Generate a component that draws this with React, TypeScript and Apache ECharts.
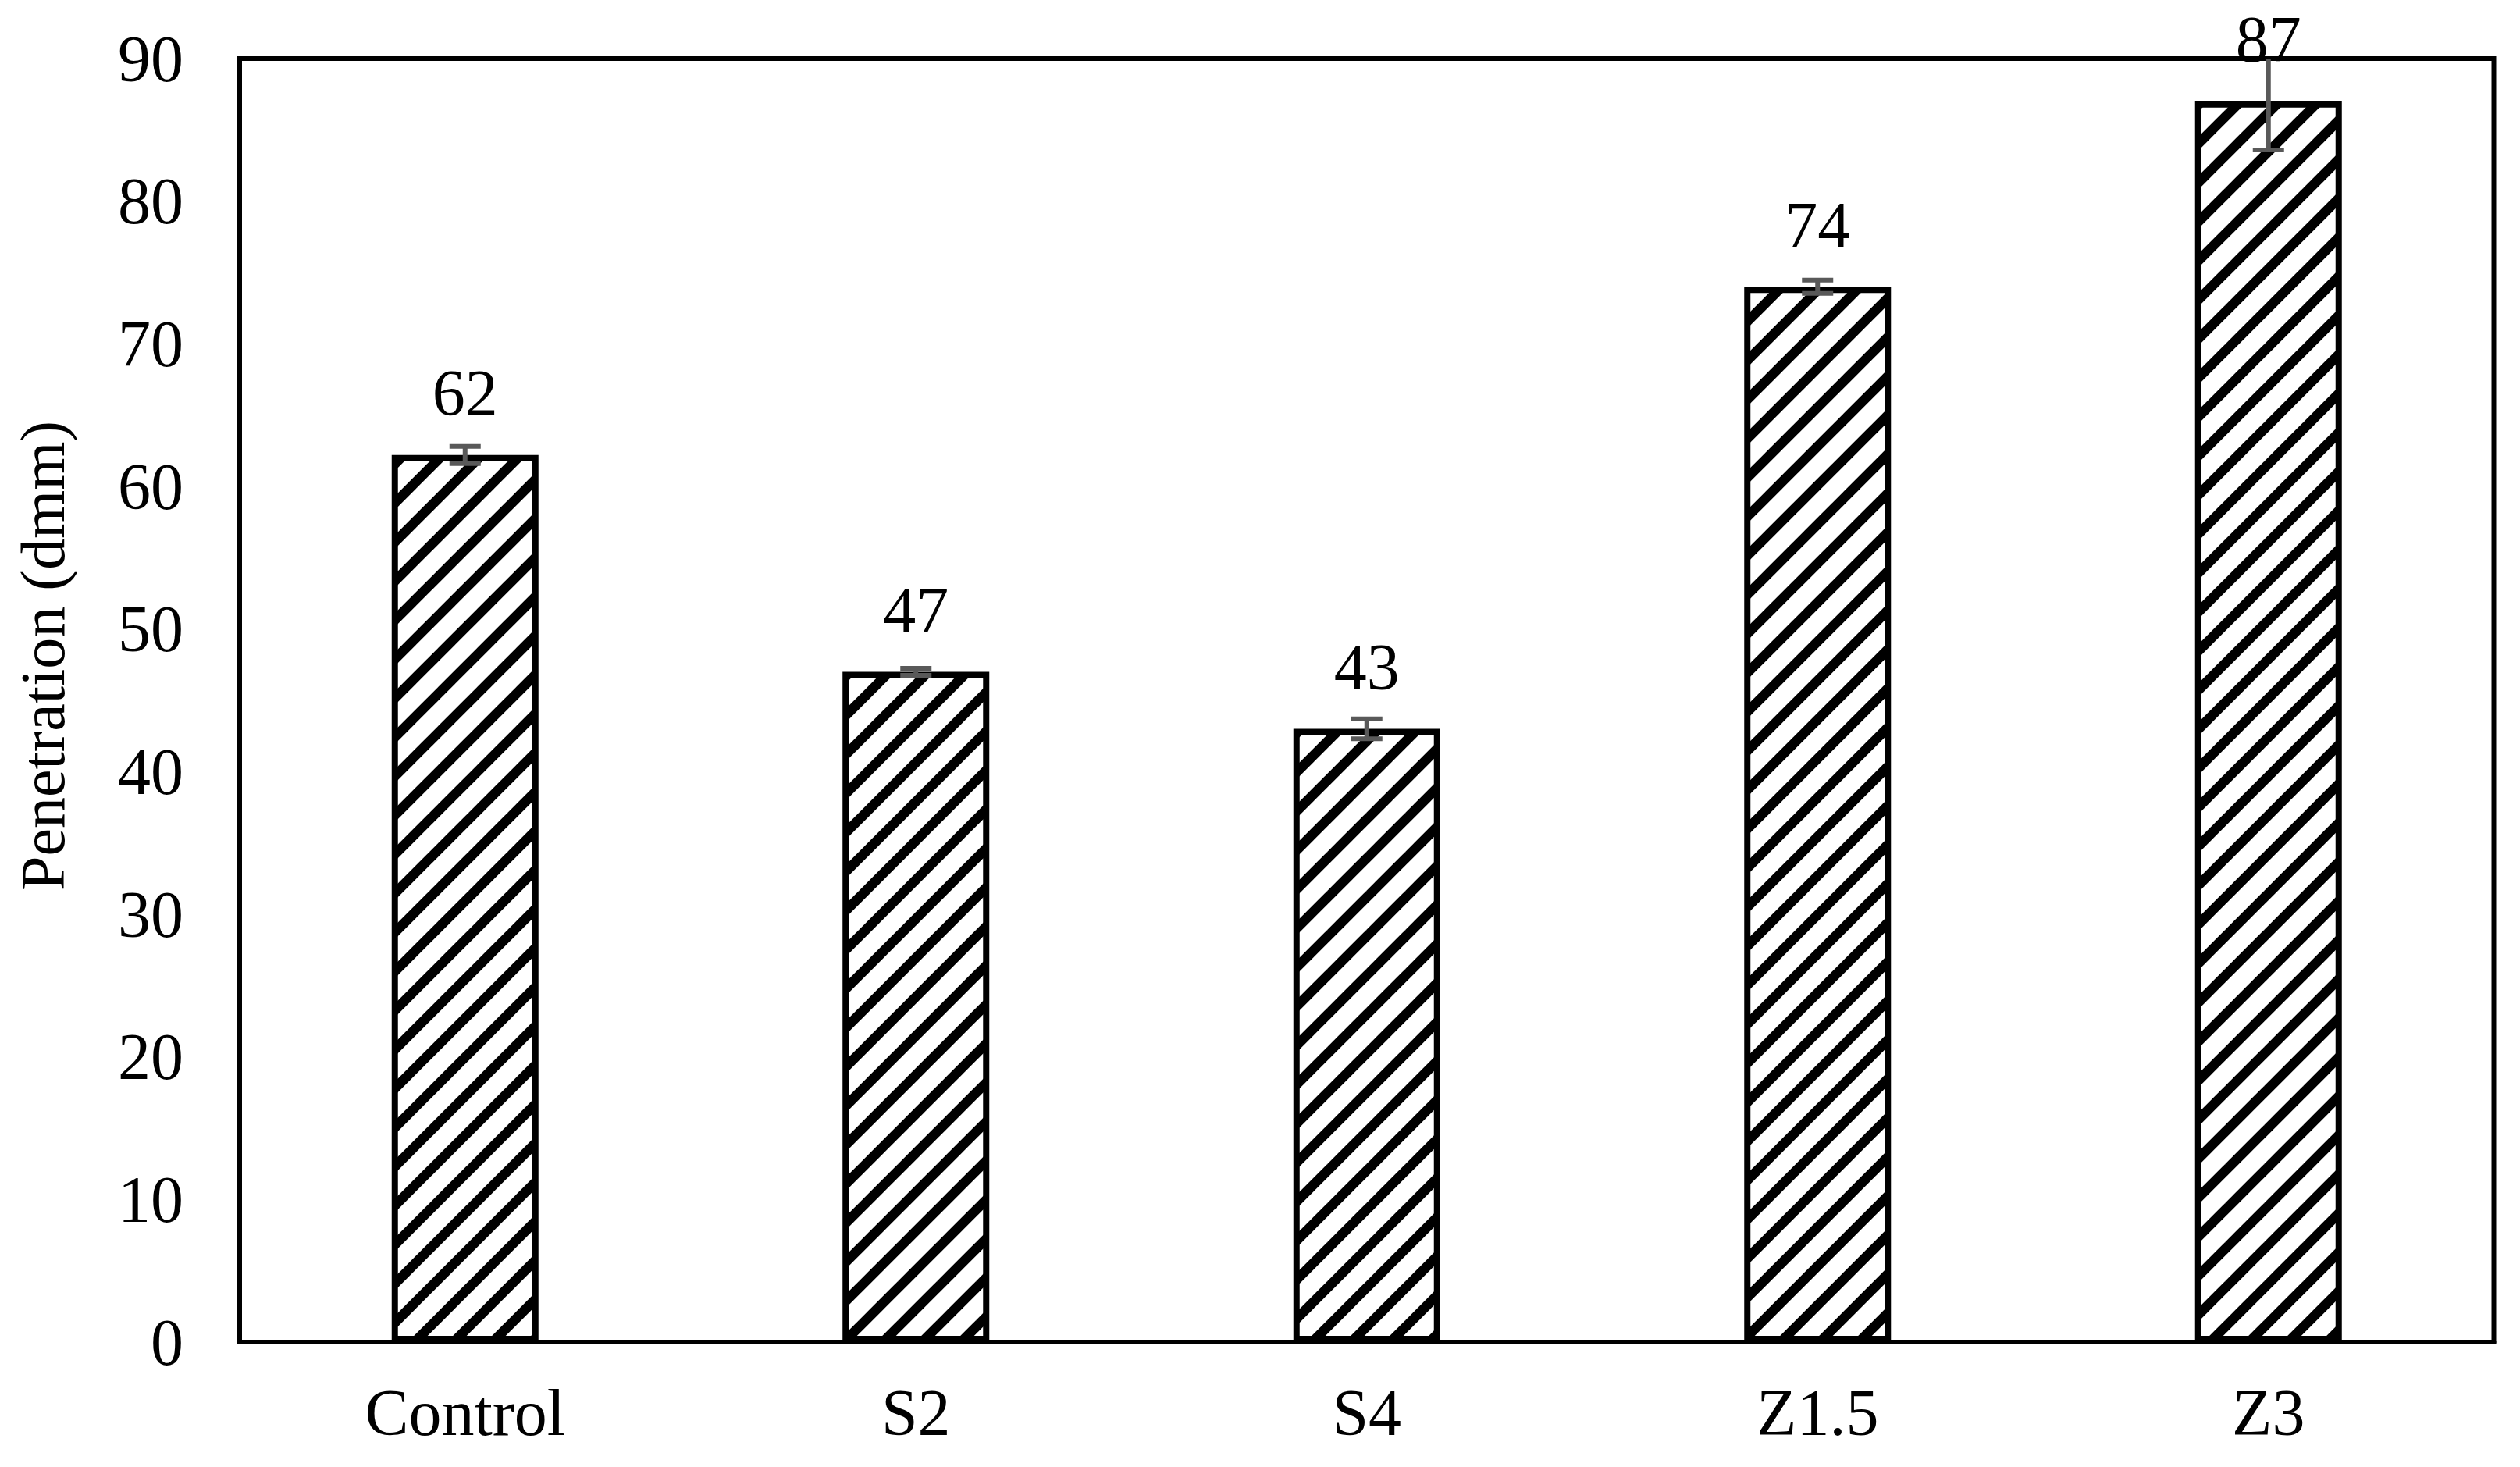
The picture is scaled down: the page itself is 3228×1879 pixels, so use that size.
import React, { useEffect, useRef } from "react";
import * as echarts from "echarts";

const categories = ["Control", "S2", "S4", "Z1.5", "Z3"];
const penetration = [62.2, 47, 43, 74, 87];
const errors = [0.6, 0.25, 0.7, 0.47, 3.4];
const yTicks = { min: 0, max: 90, interval: 10 };
const yTitle = "Penetration (dmm)";

const FONT = "'Liberation Serif', 'Times New Roman', serif";

function makeHatch(): HTMLCanvasElement {
  const size = 50;
  const c = document.createElement("canvas");
  c.width = size;
  c.height = size;
  const ctx = c.getContext("2d")!;
  ctx.fillStyle = "#ffffff";
  ctx.fillRect(0, 0, size, size);
  ctx.strokeStyle = "#000000";
  ctx.lineWidth = 12.5;
  ctx.lineCap = "butt";
  for (const k of [0, size, 2 * size]) {
    ctx.beginPath();
    ctx.moveTo(k + 20, -20);
    ctx.lineTo(-20, k + 20);
    ctx.stroke();
  }
  return c;
}

export default function App() {
  const ref = useRef<HTMLDivElement>(null);
  useEffect(() => {
    document.body.style.margin = "0";
    if (!ref.current) return;
    const chart = echarts.init(ref.current, undefined, { renderer: "svg" });
    const hatch = makeHatch();
    const errData = penetration.map((v, i) => [i, v - errors[i], v + errors[i]]);
    chart.setOption({
      animation: false,
      backgroundColor: "#ffffff",
      grid: {
        left: 307,
        right: 33.5,
        top: 75,
        bottom: 160,
        show: true,
        borderColor: "#000",
        borderWidth: 6,
        backgroundColor: "transparent",
        containLabel: false,
        outerBoundsMode: "none",
      },
      xAxis: {
        type: "category",
        data: categories,
        axisLine: { show: true, lineStyle: { color: "#000", width: 6 } },
        axisTick: { show: false },
        axisLabel: { color: "#000", fontFamily: FONT, fontSize: 84, margin: 48 },
        splitLine: { show: false },
      },
      yAxis: {
        type: "value",
        min: yTicks.min,
        max: yTicks.max,
        interval: yTicks.interval,
        axisLine: { show: true, lineStyle: { color: "#000", width: 6 } },
        axisTick: { show: false },
        axisLabel: { color: "#000", fontFamily: FONT, fontSize: 84, margin: 72 },
        splitLine: { show: false },
      },
      graphic: [
        {
          type: "text",
          x: 55,
          y: 840,
          rotation: Math.PI / 2,
          style: {
            text: yTitle,
            fill: "#000",
            font: `80px ${FONT}`,
            textAlign: "center",
            textVerticalAlign: "middle",
          },
        },
      ],
      series: [
        {
          type: "bar",
          data: penetration,
          barWidth: 188,
          z: 2,
          itemStyle: {
            color: { image: hatch, repeat: "repeat" },
            borderColor: "#000",
            borderWidth: 8,
          },
          label: {
            show: true,
            position: "top",
            distance: 37,
            color: "#000",
            fontFamily: FONT,
            fontSize: 84,
            formatter: (p: any) => String(Math.round(p.value)),
          },
        },
        {
          type: "custom",
          z: 5,
          clip: true,
          data: errData,
          renderItem: (params: any, api: any) => {
            const x = api.value(0);
            const lo = api.coord([x, api.value(1)]);
            const hi = api.coord([x, api.value(2)]);
            const half = 20;
            const st = { stroke: "#595959", lineWidth: 6 };
            return {
              type: "group",
              children: [
                { type: "line", shape: { x1: lo[0], y1: lo[1], x2: hi[0], y2: hi[1] }, style: st },
                { type: "line", shape: { x1: lo[0] - half, y1: lo[1], x2: lo[0] + half, y2: lo[1] }, style: st },
                { type: "line", shape: { x1: hi[0] - half, y1: hi[1], x2: hi[0] + half, y2: hi[1] }, style: st },
              ],
            };
          },
        },
      ],
    });
    return () => chart.dispose();
  }, []);
  return <div ref={ref} style={{ width: 3228, height: 1879 }} />;
}
